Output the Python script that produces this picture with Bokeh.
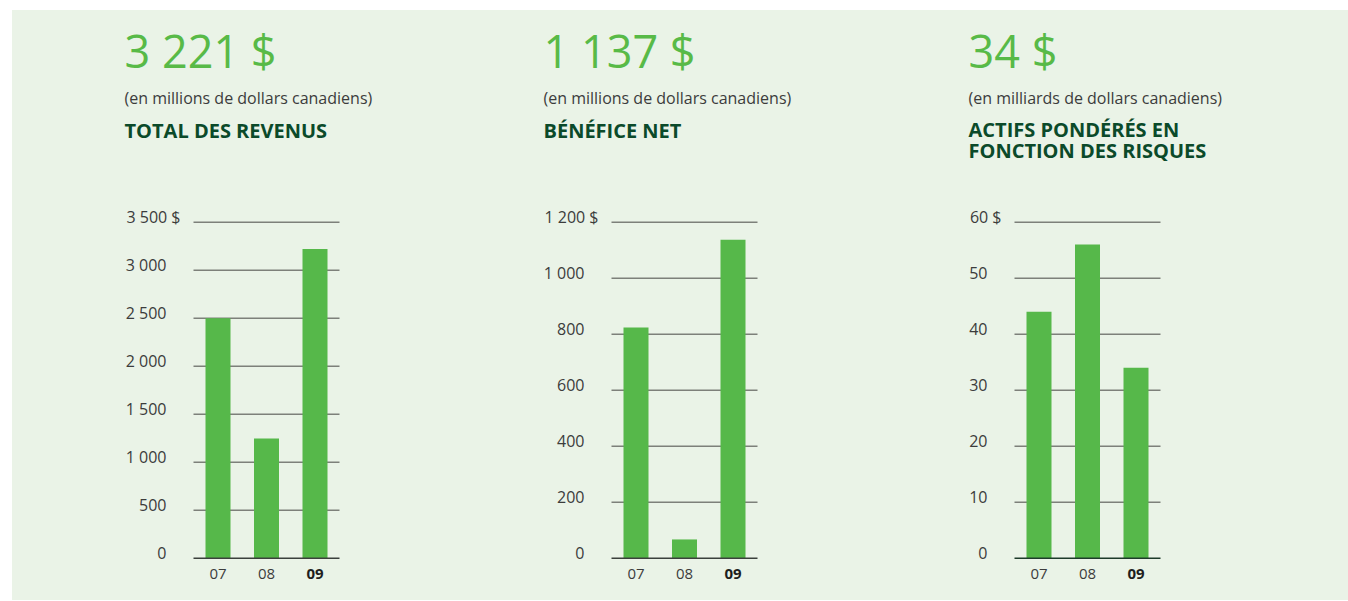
from bokeh.plotting import figure
from bokeh.models import Range1d, Spacer
from bokeh.layouts import row, column
from bokeh.core.properties import value
from bokeh.embed import file_html
from bokeh.resources import INLINE

# ---------------- data ----------------
years = ["07", "08", "09"]
year_styles = ["normal", "normal", "bold"]

revenus = [2500, 1247, 3221]
benefice = [824, 67, 1137]
actifs = [44, 56, 34]

ticks_revenus = [0, 500, 1000, 1500, 2000, 2500, 3000, 3500]
labels_revenus = ["0", "500", "1 000", "1 500", "2 000", "2 500", "3 000", "3 500 $"]
ticks_benefice = [0, 200, 400, 600, 800, 1000, 1200]
labels_benefice = ["0", "200", "400", "600", "800", "1 000", "1 200 $"]
ticks_actifs = [0, 10, 20, 30, 40, 50, 60]
labels_actifs = ["0", "10", "20", "30", "40", "50", "60 $"]

headlines = ["3 221 $", "1 137 $", "34 $"]
units = ["(en millions de dollars canadiens)",
         "(en millions de dollars canadiens)",
         "(en milliards de dollars canadiens)"]
titles = [["TOTAL DES REVENUS"], ["BÉNÉFICE NET"],
          ["ACTIFS PONDÉRÉS EN", "FONCTION DES RISQUES"]]

# ---------------- style / layout ----------------
BG = "#eaf3e7"
BAR = "#56b84a"
HEAD = "#58ba47"
TITLE = "#0b4a2a"
TXT = "#3c3c3c"
GRID = "#7d807a"
FONT = "Open Sans"

PAGE_LEFT = 12
PAGE_TOP = 10
FIG_H = 590
FRAME_W = 146          # width of gridline area
PX_PER_CAT = 48.5
FIRST_BAR_PX = 24.5
BAR_PX = 25
PLOT_PX = 336          # zero line to top gridline
ZERO_Y = 547.7         # zero line, px from figure top
ZERO_PAGE = PAGE_TOP + ZERO_Y


def make_chart(values, ticks, tick_labels, headline, unit, title_lines,
               fig_left, width, grid_left, text_left, zero_color):
    top = ticks[-1]
    ypp = top / PLOT_PX                        # data units per pixel
    x_start = (fig_left - (grid_left + FIRST_BAR_PX)) / PX_PER_CAT
    x_end = x_start + width / PX_PER_CAT
    y_start = -(FIG_H - ZERO_Y) * ypp
    y_end = ZERO_Y * ypp

    def xd(px):  # px relative to the left end of the gridlines
        return (px - FIRST_BAR_PX) / PX_PER_CAT

    def yd(px):  # px above zero line
        return px * ypp

    def yp(page_y):  # page y (from top) -> data
        return yd(ZERO_PAGE - page_y)

    p = figure(width=width, height=FIG_H,
               x_range=Range1d(x_start, x_end), y_range=Range1d(y_start, y_end),
               x_axis_location=None, y_axis_location=None,
               output_backend="svg", toolbar_location=None,
               min_border=0,
               background_fill_color=BG, border_fill_color=BG,
               outline_line_color=None)
    p.xgrid.visible = False
    p.ygrid.visible = False

    gl, gr = xd(0), xd(FRAME_W)
    # gridlines
    p.segment(x0=[gl] * (len(ticks) - 1), x1=[gr] * (len(ticks) - 1),
              y0=ticks[1:], y1=ticks[1:], line_color=GRID, line_width=1.4)

    p.vbar(x=list(range(len(years))), top=values, bottom=0,
           width=BAR_PX / PX_PER_CAT, color=BAR, line_color=None)

    # baseline
    p.segment(x0=[gl], x1=[gr], y0=[ticks[0]], y1=[ticks[0]],
              line_color=zero_color, line_width=1.6)

    # y tick labels (sitting just above their gridline)
    lift = yd(5.5)
    p.text(x=[xd(-27)] * (len(ticks) - 1), y=[t + lift for t in ticks[:-1]],
           text=tick_labels[:-1],
           text_align="right", text_baseline="alphabetic",
           text_font=value(FONT), text_font_size="16px", text_color=TXT)
    p.text(x=[xd(-13)], y=[ticks[-1] + lift], text=[tick_labels[-1]],
           text_align="right", text_baseline="alphabetic",
           text_font=value(FONT), text_font_size="16px", text_color=TXT)

    # category labels
    p.text(x=list(range(len(years))), y=[yd(-15.5)] * len(years), text=years,
           text_align="center", text_baseline="alphabetic",
           text_font=value(FONT), text_font_size="15px",
           text_font_style=year_styles,
           text_color=["#3c3c3c", "#3c3c3c", "#1e1e1e"])

    # header texts
    left = xd(text_left - grid_left)
    p.text(x=[left], y=[yp(50)], text=[headline],
           text_align="left", text_baseline="alphabetic",
           text_font=value(FONT), text_font_size="45px", text_color=HEAD)
    p.text(x=[left], y=[yp(97)], text=[unit],
           text_align="left", text_baseline="alphabetic",
           text_font=value(FONT), text_font_size="16px", text_color=TXT)
    first = 130 if len(title_lines) == 1 else 128.5
    p.text(x=[left] * len(title_lines),
           y=[yp(first + 21.5 * i) for i in range(len(title_lines))],
           text=title_lines,
           text_align="left", text_baseline="alphabetic",
           text_font=value(FONT), text_font_size="20px",
           text_font_style="bold", text_color=TITLE)
    return p


f1 = make_chart(revenus, ticks_revenus, labels_revenus, headlines[0],
                units[0], titles[0], 12, 420, 193, 124, "#3b403c")
f2 = make_chart(benefice, ticks_benefice, labels_benefice, headlines[1],
                units[1], titles[1], 432, 420, 611, 543, "#3b403c")
f3 = make_chart(actifs, ticks_actifs, labels_actifs, headlines[2],
                units[2], titles[2], 852, 496, 1014, 968, "#1d3b2a")

panel = row(f1, f2, f3, spacing=0, styles={"background-color": BG})
layout = column(Spacer(height=PAGE_TOP),
                row(Spacer(width=PAGE_LEFT), panel, spacing=0), spacing=0)

open("out.html", "w").write(file_html(layout, INLINE))
